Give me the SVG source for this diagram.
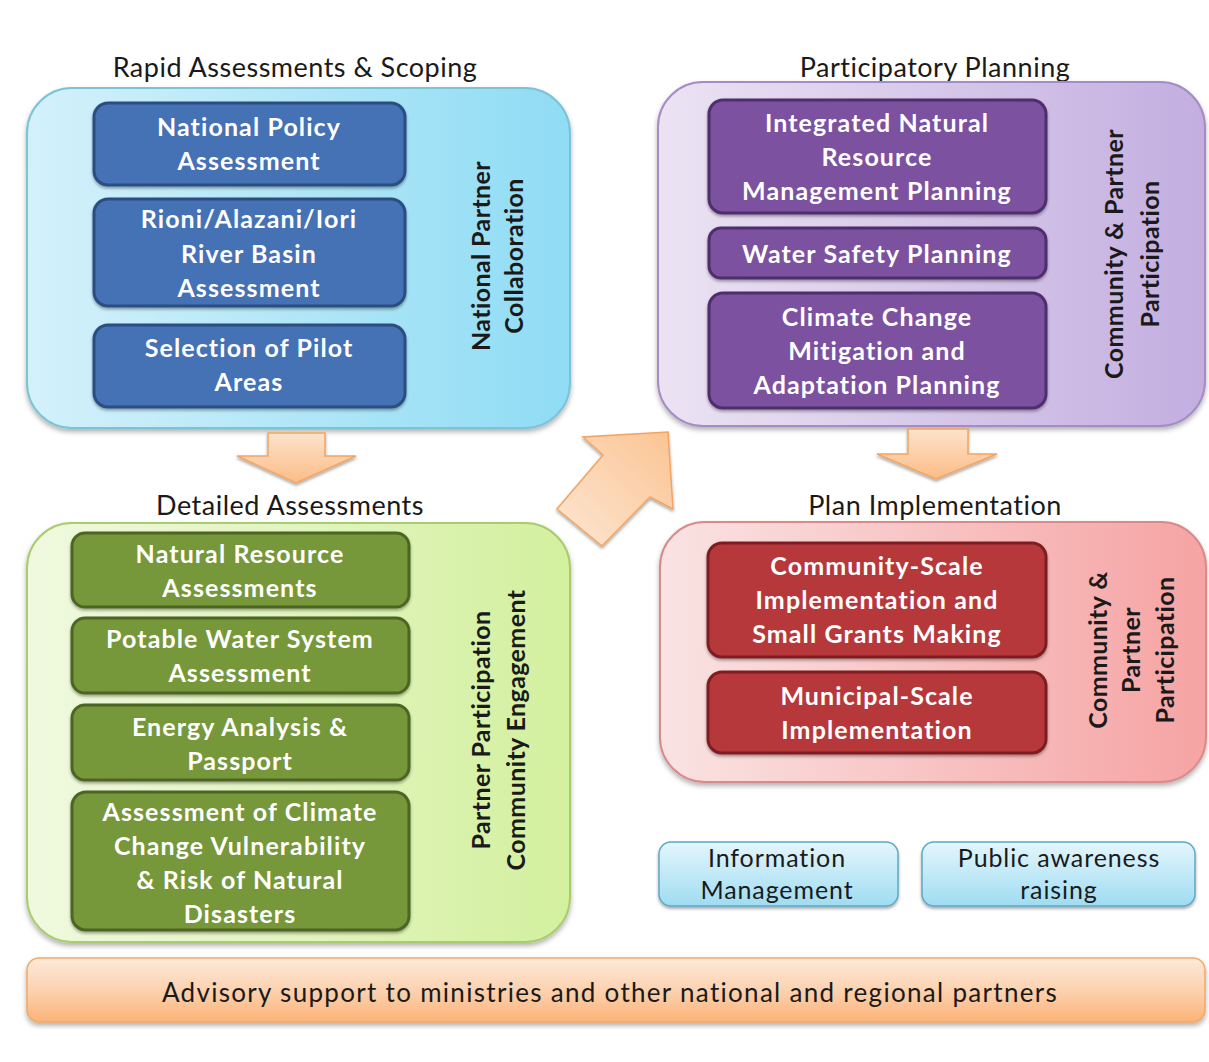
<svg xmlns="http://www.w3.org/2000/svg" width="1209" height="1062" viewBox="0 0 1209 1062">
  <defs>
    <linearGradient id="gBlue" x1="0" y1="0" x2="1" y2="0">
      <stop offset="0" stop-color="#d4f1fb"/>
      <stop offset="1" stop-color="#8fdcf4"/>
    </linearGradient>
    <linearGradient id="gPurple" x1="0" y1="0" x2="1" y2="0">
      <stop offset="0" stop-color="#ebe3f3"/>
      <stop offset="1" stop-color="#c3aee0"/>
    </linearGradient>
    <linearGradient id="gGreen" x1="0" y1="0" x2="1" y2="0">
      <stop offset="0" stop-color="#f0f9df"/>
      <stop offset="1" stop-color="#d3f09e"/>
    </linearGradient>
    <linearGradient id="gRed" x1="0" y1="0" x2="1" y2="0">
      <stop offset="0" stop-color="#fae3e3"/>
      <stop offset="1" stop-color="#f6a3a3"/>
    </linearGradient>
    <linearGradient id="gInfo" x1="0" y1="0" x2="0" y2="1">
      <stop offset="0" stop-color="#e4f6fc"/>
      <stop offset="1" stop-color="#9fdcf2"/>
    </linearGradient>
    <linearGradient id="gBar" x1="0" y1="0" x2="0" y2="1">
      <stop offset="0" stop-color="#fde9da"/>
      <stop offset="0.5" stop-color="#fcd2b0"/>
      <stop offset="1" stop-color="#fbb377"/>
    </linearGradient>
    <linearGradient id="gArrow" x1="0" y1="0" x2="0" y2="1">
      <stop offset="0" stop-color="#fde3cc"/>
      <stop offset="1" stop-color="#fbbc86"/>
    </linearGradient>
    <linearGradient id="gArrowDiag" x1="0" y1="1" x2="1" y2="0">
      <stop offset="0" stop-color="#fde6d3"/>
      <stop offset="1" stop-color="#fbc493"/>
    </linearGradient>
    <filter id="shadow" x="-5%" y="-5%" width="110%" height="115%">
      <feDropShadow dx="0" dy="3" stdDeviation="2.5" flood-color="#000" flood-opacity="0.3"/>
    </filter>
    <filter id="shadowSmall" x="-5%" y="-10%" width="110%" height="125%">
      <feDropShadow dx="0" dy="2" stdDeviation="1.5" flood-color="#000" flood-opacity="0.35"/>
    </filter>
  </defs>
  <style>
    text { font-family: Lato, "Liberation Sans", sans-serif; }
    .title { font-size: 27px; letter-spacing: 0.5px; fill: #1a1a1a; text-anchor: middle; }
    .cont { stroke-width: 2; filter: url(#shadow); }
    .item { stroke-width: 3; filter: url(#shadowSmall); }
    .lbl { font-size: 25px; letter-spacing: 1.1px; font-weight: bold; fill: #ffffff; text-anchor: middle; dominant-baseline: central; }
    .side { font-size: 25px; letter-spacing: 0.4px; font-weight: bold; fill: #1a1a1a; text-anchor: middle; dominant-baseline: central; }
    .plain { font-size: 25px; letter-spacing: 0.9px; fill: #1a1a1a; text-anchor: middle; dominant-baseline: central; }
    .arrow { stroke: #f4a460; stroke-width: 1.5; filter: url(#shadowSmall); }
  </style>

  <rect width="1209" height="1062" fill="#ffffff"/>

  <!-- Rapid Assessments & Scoping -->
  <g id="rapid-assessments">
    <text class="title" x="295" y="77">Rapid Assessments &amp; Scoping</text>
    <rect class="cont" x="27" y="88" width="543" height="340" rx="45" fill="url(#gBlue)" stroke="#7cc3d8"/>
    <g id="national-policy">
      <rect class="item" x="94" y="103" width="311" height="82" rx="14" fill="#4471b5" stroke="#2c4e82"/>
      <text class="lbl" x="249" y="126">National Policy</text>
      <text class="lbl" x="249" y="160">Assessment</text>
    </g>
    <g id="river-basin">
      <rect class="item" x="94" y="199" width="311" height="107" rx="14" fill="#4471b5" stroke="#2c4e82"/>
      <text class="lbl" x="249" y="218">Rioni/Alazani/Iori</text>
      <text class="lbl" x="249" y="253">River Basin</text>
      <text class="lbl" x="249" y="287">Assessment</text>
    </g>
    <g id="pilot-areas">
      <rect class="item" x="94" y="325" width="311" height="82" rx="14" fill="#4471b5" stroke="#2c4e82"/>
      <text class="lbl" x="249" y="347">Selection of Pilot</text>
      <text class="lbl" x="249" y="381">Areas</text>
    </g>
    <text class="side" transform="translate(480 256) rotate(-90)">National Partner</text>
    <text class="side" transform="translate(513 256) rotate(-90)">Collaboration</text>
  </g>

  <!-- Participatory Planning -->
  <g id="participatory-planning">
    <text class="title" x="935" y="77">Participatory Planning</text>
    <rect class="cont" x="658" y="82" width="547" height="344" rx="45" fill="url(#gPurple)" stroke="#a58cc6"/>
    <g id="inrm-planning">
      <rect class="item" x="709" y="100" width="337" height="113" rx="14" fill="#7b519f" stroke="#4f2f6e"/>
      <text class="lbl" x="877" y="122">Integrated Natural</text>
      <text class="lbl" x="877" y="156">Resource</text>
      <text class="lbl" x="877" y="190">Management Planning</text>
    </g>
    <g id="water-safety">
      <rect class="item" x="709" y="228" width="337" height="50" rx="12" fill="#7b519f" stroke="#4f2f6e"/>
      <text class="lbl" x="877" y="253">Water Safety Planning</text>
    </g>
    <g id="climate-planning">
      <rect class="item" x="709" y="293" width="337" height="115" rx="14" fill="#7b519f" stroke="#4f2f6e"/>
      <text class="lbl" x="877" y="316">Climate Change</text>
      <text class="lbl" x="877" y="350">Mitigation and</text>
      <text class="lbl" x="877" y="384">Adaptation Planning</text>
    </g>
    <text class="side" transform="translate(1113 254) rotate(-90)">Community &amp; Partner</text>
    <text class="side" transform="translate(1149 254) rotate(-90)">Participation</text>
  </g>

  <!-- Detailed Assessments -->
  <g id="detailed-assessments">
    <text class="title" x="290" y="515">Detailed Assessments</text>
    <rect class="cont" x="27" y="523" width="543" height="419" rx="45" fill="url(#gGreen)" stroke="#a9cc6f"/>
    <g id="natural-resource">
      <rect class="item" x="72" y="533" width="337" height="74" rx="13" fill="#76983b" stroke="#4d6524"/>
      <text class="lbl" x="240" y="553">Natural Resource</text>
      <text class="lbl" x="240" y="587">Assessments</text>
    </g>
    <g id="potable-water">
      <rect class="item" x="72" y="618" width="337" height="75" rx="13" fill="#76983b" stroke="#4d6524"/>
      <text class="lbl" x="240" y="638">Potable Water System</text>
      <text class="lbl" x="240" y="672">Assessment</text>
    </g>
    <g id="energy-analysis">
      <rect class="item" x="72" y="705" width="337" height="75" rx="13" fill="#76983b" stroke="#4d6524"/>
      <text class="lbl" x="240" y="726">Energy Analysis &amp;</text>
      <text class="lbl" x="240" y="760">Passport</text>
    </g>
    <g id="climate-vulnerability">
      <rect class="item" x="72" y="792" width="337" height="138" rx="14" fill="#76983b" stroke="#4d6524"/>
      <text class="lbl" x="240" y="811">Assessment of Climate</text>
      <text class="lbl" x="240" y="845">Change Vulnerability</text>
      <text class="lbl" x="240" y="879">&amp; Risk of Natural</text>
      <text class="lbl" x="240" y="913">Disasters</text>
    </g>
    <text class="side" transform="translate(480 730) rotate(-90)">Partner Participation</text>
    <text class="side" transform="translate(515 730) rotate(-90)">Community Engagement</text>
  </g>

  <!-- Plan Implementation -->
  <g id="plan-implementation">
    <text class="title" x="935" y="515">Plan Implementation</text>
    <rect class="cont" x="660" y="522" width="546" height="260" rx="45" fill="url(#gRed)" stroke="#d98b8b"/>
    <g id="community-scale">
      <rect class="item" x="708" y="543" width="338" height="114" rx="14" fill="#b7393a" stroke="#7e1f20"/>
      <text class="lbl" x="877" y="565">Community-Scale</text>
      <text class="lbl" x="877" y="599">Implementation and</text>
      <text class="lbl" x="877" y="633">Small Grants Making</text>
    </g>
    <g id="municipal-scale">
      <rect class="item" x="708" y="672" width="338" height="81" rx="14" fill="#b7393a" stroke="#7e1f20"/>
      <text class="lbl" x="877" y="695">Municipal-Scale</text>
      <text class="lbl" x="877" y="729">Implementation</text>
    </g>
    <text class="side" transform="translate(1097 650) rotate(-90)">Community &amp;</text>
    <text class="side" transform="translate(1130 650) rotate(-90)">Partner</text>
    <text class="side" transform="translate(1164 650) rotate(-90)">Participation</text>
  </g>

  <!-- Cross-cutting activities -->
  <g id="information-management">
    <rect class="item" x="659" y="842" width="239" height="64" rx="12" fill="url(#gInfo)" stroke="#5fa8c4" style="stroke-width:1.5"/>
    <text class="plain" x="777" y="857">Information</text>
    <text class="plain" x="777" y="889">Management</text>
  </g>
  <g id="public-awareness">
    <rect class="item" x="922" y="842" width="273" height="64" rx="12" fill="url(#gInfo)" stroke="#5fa8c4" style="stroke-width:1.5"/>
    <text class="plain" x="1059" y="857">Public awareness</text>
    <text class="plain" x="1059" y="889">raising</text>
  </g>

  <g id="advisory-support">
    <rect x="27" y="958" width="1178" height="64" rx="12" fill="url(#gBar)" stroke="#f0a868" stroke-width="1.5" filter="url(#shadow)"/>
    <text class="plain" x="610" y="992" style="font-size:26px;letter-spacing:1.3px">Advisory support to ministries and other national and regional partners</text>
  </g>

  <!-- Block arrows between phases -->
  <g id="connectors">
    <polygon class="arrow" fill="url(#gArrow)" points="268,433 325,433 325,456 356,456 296,483 237,456 268,456"/>
    <polygon class="arrow" fill="url(#gArrowDiag)" points="668,432 673,509 650,497 602,546 557,509 603,455 583,437"/>
    <polygon class="arrow" fill="url(#gArrow)" points="908,429 968,429 968,454 997,454 936,479 877,454 908,454"/>
  </g>
</svg>
